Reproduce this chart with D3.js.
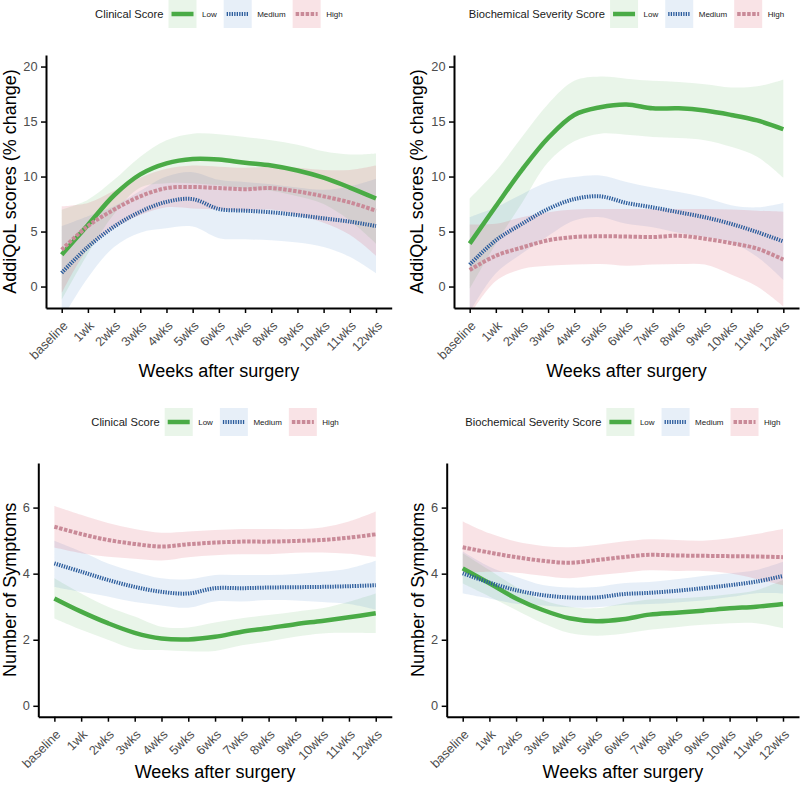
<!DOCTYPE html>
<html>
<head>
<meta charset="utf-8">
<script src="https://cdn.jsdelivr.net/npm/d3@7"></script>
<style>
  html, body { margin: 0; padding: 0; background: #fff; }
  svg { display: block; font-family: "Liberation Sans", Arial, Helvetica, sans-serif; }
</style>
</head>
<body>
<svg id="chart" width="800" height="790"></svg>
<script>
// ---------- data ----------
const weeks = ["baseline","1wk","2wks","3wks","4wks","5wks","6wks","7wks","8wks","9wks","10wks","11wks","12wks"];
const groups = ["Low","Medium","High"];
const qolTicks = [0, 5, 10, 15, 20];
const symTicks = [0, 2, 4, 6];

// AddiQoL by Clinical Score
const qolClinLow      = [2.9, 5.6, 8.3, 10.2, 11.2, 11.6, 11.55, 11.25, 11.0, 10.55, 9.9, 9.0, 8.0];
const qolClinLowHi    = [7.0, 7.9, 9.7, 11.8, 13.3, 13.9, 13.85, 13.6, 13.3, 12.9, 12.3, 12.0, 12.1];
const qolClinLowLo    = [-1.2, 3.0, 6.6, 9.0, 9.4, 9.4, 9.2, 8.9, 8.7, 8.2, 7.5, 6.0, 3.9];
const qolClinMed      = [1.25, 3.6, 5.45, 6.8, 7.7, 7.95, 7.05, 6.9, 6.75, 6.5, 6.2, 5.9, 5.5];
const qolClinMedHi    = [5.5, 6.4, 7.3, 8.7, 10.0, 10.4, 9.7, 9.5, 9.3, 9.0, 8.8, 9.1, 9.8];
const qolClinMedLo    = [-3.0, 0.8, 3.6, 4.9, 5.3, 5.45, 4.4, 4.3, 4.2, 4.0, 3.6, 2.7, 1.2];
const qolClinHigh     = [3.35, 5.5, 7.0, 8.2, 8.95, 9.05, 8.95, 8.85, 8.95, 8.65, 8.2, 7.65, 6.9];
const qolClinHighHi   = [7.3, 7.6, 8.7, 9.9, 10.7, 11.0, 10.9, 10.8, 10.9, 10.8, 10.6, 10.6, 11.0];
const qolClinHighLo   = [-0.6, 3.4, 5.3, 6.5, 7.2, 7.1, 7.0, 6.9, 7.0, 6.5, 5.8, 4.7, 2.8];

// AddiQoL by Biochemical Severity Score
const qolBioLow       = [3.9, 7.3, 10.6, 13.5, 15.6, 16.3, 16.55, 16.2, 16.2, 16.0, 15.6, 15.1, 14.3];
const qolBioLowHi     = [8.0, 10.5, 13.6, 16.6, 18.7, 19.1, 18.9, 18.7, 18.6, 18.4, 18.1, 18.2, 18.8];
const qolBioLowLo     = [-0.2, 3.9, 7.6, 11.3, 13.2, 13.9, 13.8, 13.6, 13.5, 13.3, 12.7, 11.8, 9.9];
const qolBioMed       = [2.0, 4.2, 5.7, 7.05, 7.95, 8.2, 7.6, 7.2, 6.75, 6.3, 5.7, 4.95, 4.1];
const qolBioMedHi     = [6.3, 7.2, 8.4, 9.5, 9.95, 10.1, 9.5, 9.0, 8.6, 8.1, 7.4, 7.2, 7.6];
const qolBioMedLo     = [-2.3, 1.2, 3.0, 4.6, 6.0, 6.3, 5.7, 5.4, 4.9, 4.5, 4.0, 2.7, 0.6];
const qolBioHigh      = [1.5, 2.8, 3.55, 4.2, 4.5, 4.57, 4.55, 4.5, 4.62, 4.35, 3.95, 3.45, 2.45];
const qolBioHighHi    = [5.65, 5.7, 6.3, 6.75, 7.0, 7.05, 7.05, 7.05, 7.05, 7.05, 7.0, 6.9, 6.8];
const qolBioHighLo    = [-2.6, 0.5, 1.6, 1.9, 2.0, 2.05, 1.9, 2.0, 2.05, 2.0, 1.1, 0.0, -1.8];

// Symptoms by Clinical Score
const symClinLow      = [3.25, 2.85, 2.5, 2.21, 2.04, 2.01, 2.09, 2.24, 2.35, 2.47, 2.57, 2.68, 2.8];
const symClinLowHi    = [3.86, 3.4, 3.0, 2.7, 2.39, 2.37, 2.52, 2.65, 2.75, 2.85, 2.95, 3.15, 3.4];
const symClinLowLo    = [2.64, 2.3, 2.0, 1.72, 1.69, 1.65, 1.66, 1.83, 1.95, 2.09, 2.19, 2.21, 2.2];
const symClinMed      = [4.31, 4.06, 3.81, 3.6, 3.45, 3.4, 3.56, 3.56, 3.58, 3.59, 3.6, 3.62, 3.65];
const symClinMedHi    = [5.0, 4.67, 4.31, 4.06, 3.86, 3.83, 3.96, 3.96, 3.96, 3.99, 4.06, 4.16, 4.39];
const symClinMedLo    = [3.6, 3.45, 3.31, 3.14, 3.04, 2.97, 3.16, 3.16, 3.2, 3.19, 3.14, 3.08, 2.91];
const symClinHigh     = [5.42, 5.2, 5.02, 4.9, 4.82, 4.89, 4.94, 4.97, 4.97, 4.99, 5.02, 5.09, 5.19];
const symClinHighHi   = [6.05, 5.78, 5.53, 5.35, 5.24, 5.28, 5.32, 5.35, 5.35, 5.35, 5.4, 5.58, 5.88];
const symClinHighLo   = [4.79, 4.62, 4.51, 4.45, 4.4, 4.5, 4.56, 4.59, 4.59, 4.63, 4.64, 4.6, 4.5];

// Symptoms by Biochemical Severity Score
const symBioLow       = [4.16, 3.71, 3.25, 2.9, 2.65, 2.56, 2.62, 2.76, 2.82, 2.88, 2.95, 3.0, 3.08];
const symBioLowHi     = [4.62, 4.11, 3.6, 3.2, 3.0, 2.95, 3.1, 3.22, 3.25, 3.3, 3.38, 3.5, 3.81];
const symBioLowLo     = [3.7, 3.31, 2.9, 2.5, 2.2, 2.12, 2.18, 2.3, 2.38, 2.45, 2.5, 2.5, 2.35];
const symBioMed       = [4.01, 3.73, 3.5, 3.35, 3.28, 3.28, 3.38, 3.42, 3.48, 3.56, 3.65, 3.76, 3.93];
const symBioMedHi     = [4.67, 4.21, 3.91, 3.66, 3.58, 3.6, 3.71, 3.75, 3.83, 3.93, 4.01, 4.11, 4.36];
const symBioMedLo     = [3.4, 3.25, 3.09, 3.04, 2.98, 2.98, 3.05, 3.08, 3.13, 3.19, 3.29, 3.41, 3.4];
const symBioHigh      = [4.8, 4.64, 4.5, 4.39, 4.33, 4.41, 4.5, 4.57, 4.55, 4.54, 4.53, 4.52, 4.5];
const symBioHighHi    = [5.58, 5.22, 4.97, 4.84, 4.8, 4.87, 4.97, 5.04, 5.02, 5.0, 5.07, 5.2, 5.35];
const symBioHighLo    = [4.02, 4.06, 4.03, 3.94, 3.86, 3.95, 4.03, 4.1, 4.08, 4.08, 4.01, 3.84, 3.65];

// ---------- styles ----------
const styles = {
  Low:    { line: "#4aab46", fill: "rgba(77,175,74,0.12)",  width: 4.5, dash: null },
  Medium: { line: "#2b5c9c", fill: "rgba(70,130,200,0.13)", width: 4,   dash: "1.3,1.2" },
  High:   { line: "#c98a98", fill: "rgba(215,80,100,0.16)", width: 4,   dash: "3.5,1.5" }
};

const svg = d3.select("#chart");
const FONT = '"Liberation Sans", Arial, Helvetica, sans-serif';
let clipId = 0;

function drawPanel(cfg) {
  const x = d3.scaleLinear().domain([-0.6, 12.6]).range([cfg.x0, cfg.x1]);
  const y = d3.scaleLinear().domain(cfg.yDomain).range([cfg.y1, cfg.y0]);
  const id = "clip" + (clipId++);
  svg.append("clipPath").attr("id", id).append("rect")
    .attr("x", cfg.x0).attr("y", cfg.y0).attr("width", cfg.x1 - cfg.x0).attr("height", cfg.y1 - cfg.y0);
  const g = svg.append("g").attr("clip-path", `url(#${id})`);

  const curve = d3.curveCatmullRom.alpha(0.5);
  const area = d3.area().x((d, i) => x(i)).y0(d => y(d[0])).y1(d => y(d[1])).curve(curve);
  const line = d3.line().x((d, i) => x(i)).y(d => y(d)).curve(curve);

  cfg.series.forEach(s => {
    const st = styles[s.name];
    g.append("path").datum(s.lo.map((v, i) => [v, s.hi[i]]))
      .attr("d", area).attr("fill", st.fill).attr("stroke", "none");
  });
  cfg.series.forEach(s => {
    const st = styles[s.name];
    g.append("path").datum(s.mean).attr("d", line)
      .attr("fill", "none").attr("stroke", st.line).attr("stroke-width", st.width)
      .attr("stroke-dasharray", st.dash);
  });

  // axes
  const xa = svg.append("g").attr("transform", `translate(0,${cfg.y1})`)
    .call(d3.axisBottom(x).tickValues(d3.range(weeks.length)).tickFormat(i => weeks[i]).tickSize(5).tickSizeOuter(0));
  xa.select(".domain").attr("stroke", "#000").attr("stroke-width", 2);
  xa.selectAll(".tick line").attr("stroke", "#000").attr("stroke-width", 1.5);
  xa.selectAll(".tick text").attr("y", 0).attr("x", 0).attr("dy", ".71em")
    .attr("transform", "translate(0,12) rotate(-45)")
    .style("text-anchor", "end").style("font-size", "12.8px").style("font-family", FONT).attr("fill", "#4d4d4d");

  const ya = svg.append("g").attr("transform", `translate(${cfg.x0},0)`)
    .call(d3.axisLeft(y).tickValues(cfg.yTicks).tickSize(5).tickPadding(3.5).tickSizeOuter(0));
  ya.select(".domain").attr("stroke", "#000").attr("stroke-width", 2);
  ya.selectAll(".tick line").attr("stroke", "#000").attr("stroke-width", 1.5);
  ya.selectAll(".tick text").style("font-size", "12.8px").style("font-family", FONT).attr("fill", "#4d4d4d");

  // axis titles
  const cx = (cfg.x0 + cfg.x1) / 2;
  svg.append("text").attr("x", cx).attr("y", cfg.xTitleY).attr("text-anchor", "middle")
    .style("font-size", "18px").attr("fill", "#000").text("Weeks after surgery");
  svg.append("text").attr("transform", `translate(${cfg.yTitleX},${(cfg.y0 + cfg.y1) / 2}) rotate(-90)`)
    .attr("text-anchor", "middle").style("font-size", "18px").attr("fill", "#000").text(cfg.yTitle);

  // legend
  const lg = svg.append("g");
  const title = lg.append("text").attr("x", 0).attr("y", cfg.legendY).attr("dy", "0.35em")
    .style("font-size", "11.2px").attr("fill", "#1a1a1a").text(cfg.legendTitle);
  let pos = title.node().getComputedTextLength() + 5;
  const key = 28;
  groups.forEach((name, k) => {
    const st = styles[name];
    lg.append("rect").attr("x", pos).attr("y", cfg.legendY - key / 2).attr("width", key).attr("height", key)
      .attr("fill", st.fill);
    lg.append("line").attr("x1", pos + 3).attr("x2", pos + key - 3)
      .attr("y1", cfg.legendY).attr("y2", cfg.legendY)
      .attr("stroke", st.line).attr("stroke-width", st.width).attr("stroke-dasharray", st.dash);
    pos += key + 5.5;
    const t = lg.append("text").attr("x", pos).attr("y", cfg.legendY).attr("dy", "0.35em")
      .style("font-size", "8px").attr("fill", "#1a1a1a").text(name);
    pos += t.node().getComputedTextLength() + (k < groups.length - 1 ? 7 : 0);
  });
  lg.attr("transform", `translate(${cx - pos / 2},0)`);
}

drawPanel({
  x0: 46, x1: 391.7, y0: 55, y1: 308, yDomain: [-1.95, 21.05], yTicks: qolTicks,
  yTitle: "AddiQoL scores (% change)", yTitleX: 15.5, xTitleY: 377,
  legendTitle: "Clinical Score", legendY: 14,
  series: [
    { name: "Low", mean: qolClinLow, lo: qolClinLowLo, hi: qolClinLowHi },
    { name: "Medium", mean: qolClinMed, lo: qolClinMedLo, hi: qolClinMedHi },
    { name: "High", mean: qolClinHigh, lo: qolClinHighLo, hi: qolClinHighHi }
  ]
});
drawPanel({
  x0: 454, x1: 799, y0: 55, y1: 308, yDomain: [-1.95, 21.05], yTicks: qolTicks,
  yTitle: "AddiQoL scores (% change)", yTitleX: 423, xTitleY: 377,
  legendTitle: "Biochemical Severity Score", legendY: 14,
  series: [
    { name: "Low", mean: qolBioLow, lo: qolBioLowLo, hi: qolBioLowHi },
    { name: "Medium", mean: qolBioMed, lo: qolBioMedLo, hi: qolBioMedHi },
    { name: "High", mean: qolBioHigh, lo: qolBioHighLo, hi: qolBioHighHi }
  ]
});
drawPanel({
  x0: 38.3, x1: 391.8, y0: 463, y1: 716.7, yDomain: [-0.33, 7.35], yTicks: symTicks,
  yTitle: "Number of Symptoms", yTitleX: 15.5, xTitleY: 778,
  legendTitle: "Clinical Score", legendY: 422,
  series: [
    { name: "Low", mean: symClinLow, lo: symClinLowLo, hi: symClinLowHi },
    { name: "Medium", mean: symClinMed, lo: symClinMedLo, hi: symClinMedHi },
    { name: "High", mean: symClinHigh, lo: symClinHighLo, hi: symClinHighHi }
  ]
});
drawPanel({
  x0: 446.7, x1: 799, y0: 463, y1: 716.7, yDomain: [-0.33, 7.35], yTicks: symTicks,
  yTitle: "Number of Symptoms", yTitleX: 423.5, xTitleY: 778,
  legendTitle: "Biochemical Severity Score", legendY: 422,
  series: [
    { name: "Low", mean: symBioLow, lo: symBioLowLo, hi: symBioLowHi },
    { name: "Medium", mean: symBioMed, lo: symBioMedLo, hi: symBioMedHi },
    { name: "High", mean: symBioHigh, lo: symBioHighLo, hi: symBioHighHi }
  ]
});
</script>
</body>
</html>
